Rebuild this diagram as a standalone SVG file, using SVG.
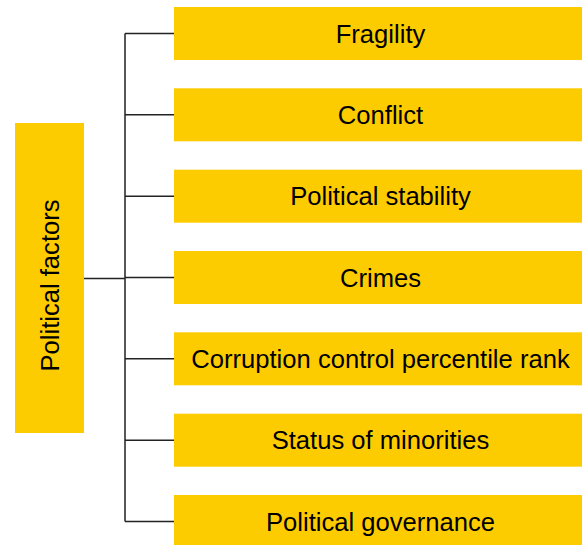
<svg xmlns="http://www.w3.org/2000/svg" width="582" height="545" viewBox="0 0 582 545">
<style>
.box{fill:#FDCC00;}
.t{font-family:"Liberation Sans",Arial,Helvetica,sans-serif;font-size:25.6px;fill:#000;text-anchor:middle;}
.c{stroke:#222;stroke-width:1.5;fill:none;}
</style>
<rect width="582" height="545" fill="#fff"/>
<g id="connectors">
<path class="c" d="M84 278.5H125M125 33.5V521.5M125 33.5H174M125 114.8H174M125 196.2H174M125 277.5H174M125 358.8H174M125 440.2H174M125 521.5H174"/>
</g>
<g id="root"><rect class="box" x="15" y="123" width="69" height="310"/><text class="t" transform="translate(59,285.5) rotate(-90)">Political factors</text></g>
<g id="n1"><rect class="box" x="174" y="7" width="408" height="53"/><text class="t" x="380.5" y="42.5">Fragility</text></g>
<g id="n2"><rect class="box" x="174" y="88.3" width="408" height="53"/><text class="t" x="380.5" y="123.8">Conflict</text></g>
<g id="n3"><rect class="box" x="174" y="169.7" width="408" height="53"/><text class="t" x="380.5" y="205.2">Political stability</text></g>
<g id="n4"><rect class="box" x="174" y="251" width="408" height="53"/><text class="t" x="380.5" y="286.5">Crimes</text></g>
<g id="n5"><rect class="box" x="174" y="332.3" width="408" height="53"/><text class="t" x="380.5" y="367.8">Corruption control percentile rank</text></g>
<g id="n6"><rect class="box" x="174" y="413.7" width="408" height="53"/><text class="t" x="380.5" y="449.2">Status of minorities</text></g>
<g id="n7"><rect class="box" x="174" y="495" width="408" height="53"/><text class="t" x="380.5" y="530.5">Political governance</text></g>
</svg>
